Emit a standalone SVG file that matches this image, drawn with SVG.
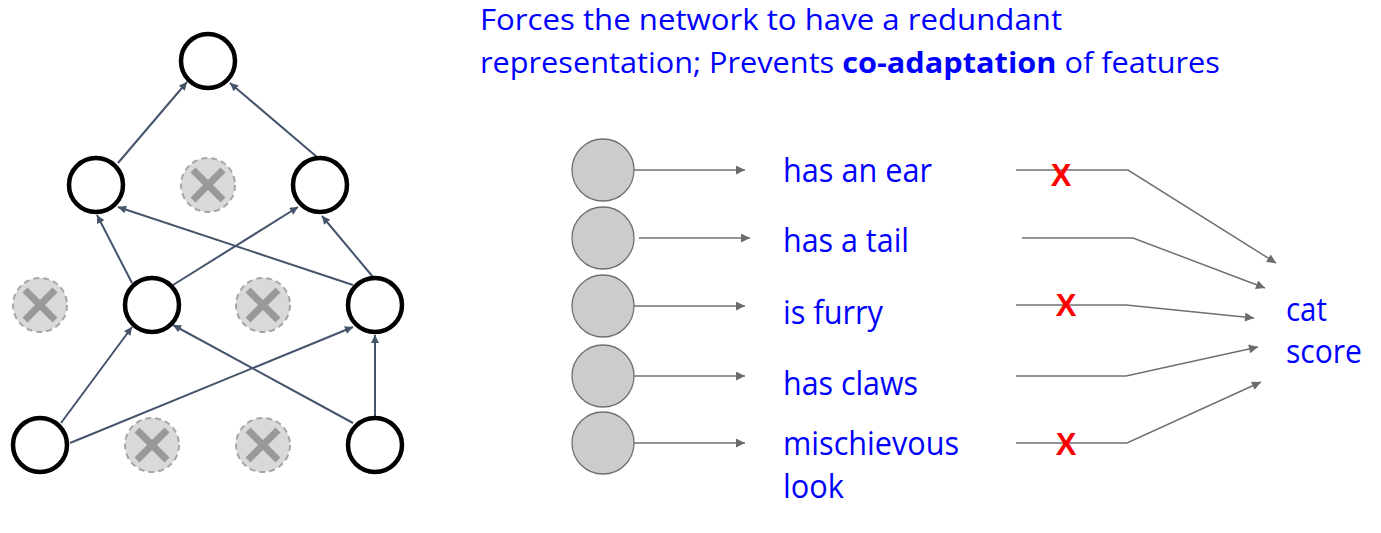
<svg xmlns="http://www.w3.org/2000/svg" width="1381" height="533" viewBox="0 0 1381 533">
<defs>
<style>
.node{fill:#fff;stroke:#000;stroke-width:4.5}
.drop{fill:#d9d9d9;stroke:#a6a6a6;stroke-width:2;stroke-dasharray:6 4}
.dx{stroke:#999;stroke-width:7}
.net{stroke:#44546a;stroke-width:2;fill:none;marker-end:url(#ah)}
.feat{fill:#cccccc;stroke:#707070;stroke-width:1.3}
.fl{stroke:#707070;stroke-width:1.5;fill:none}
.fa{marker-end:url(#ag)}
.lbl{font-family:"Open Sans","Noto Sans",sans-serif;font-size:32px;fill:#0000ff}
.top{font-family:"Open Sans","Noto Sans",sans-serif;font-size:29px;fill:#0000ff}
.x{font-family:"Liberation Sans",Arial,sans-serif;font-weight:bold;font-size:31px;fill:#ff0000;text-anchor:middle}
</style>
<marker id="ah" viewBox="0 0 10 10" refX="10" refY="5" markerWidth="9" markerHeight="8" markerUnits="userSpaceOnUse" orient="auto">
<path d="M0,0 L10,5 L0,10 z" fill="#44546a"/>
</marker>
<marker id="ag" viewBox="0 0 10 10" refX="10" refY="5" markerWidth="12" markerHeight="9" markerUnits="userSpaceOnUse" orient="auto">
<path d="M0,0 L10,5 L0,10 z" fill="#6b6b6b"/>
</marker>
</defs>
<rect width="1381" height="533" fill="#fff"/>

<g id="connectors">
<line class="net" x1="118" y1="163" x2="187" y2="82"/>
<line class="net" x1="317" y1="157" x2="230" y2="83"/>
<line class="net" x1="132" y1="283" x2="97" y2="215"/>
<line class="net" x1="353" y1="285" x2="118" y2="207"/>
<line class="net" x1="173" y1="285" x2="298" y2="207"/>
<line class="net" x1="373" y1="277" x2="322" y2="216"/>
<line class="net" x1="61" y1="423" x2="132" y2="327"/>
<line class="net" x1="70" y1="443" x2="353" y2="327"/>
<line class="net" x1="353" y1="423" x2="173" y2="325"/>
<line class="net" x1="375" y1="417" x2="375" y2="335"/>

<line class="fl fa" x1="634" y1="170" x2="745" y2="170"/>
<line class="fl fa" x1="639" y1="238" x2="750" y2="238"/>
<line class="fl fa" x1="634" y1="306" x2="745" y2="306"/>
<line class="fl fa" x1="634" y1="376" x2="745" y2="376"/>
<line class="fl fa" x1="634" y1="443" x2="745" y2="443"/>

<polyline class="fl fa" points="1016,170 1128,170 1276,263"/>
<polyline class="fl fa" points="1022,238 1133,238 1265,288"/>
<polyline class="fl fa" points="1016,305 1126,305 1254,318"/>
<polyline class="fl fa" points="1016,376 1126,376 1258,347"/>
<polyline class="fl fa" points="1016,443 1127,443 1261,382"/>
</g>

<g id="n-top"><circle class="node" cx="208" cy="61" r="27"/></g>
<g id="n-h1a"><circle class="node" cx="96" cy="185" r="27"/></g>
<g id="n-h1b"><circle class="drop" cx="208" cy="185" r="27"/><path class="dx" d="M193,170 L223,200 M223,170 L193,200"/></g>
<g id="n-h1c"><circle class="node" cx="320" cy="185" r="27"/></g>
<g id="n-h2a"><circle class="drop" cx="40" cy="305" r="27"/><path class="dx" d="M25,290 L55,320 M55,290 L25,320"/></g>
<g id="n-h2b"><circle class="node" cx="152" cy="305" r="27"/></g>
<g id="n-h2c"><circle class="drop" cx="263" cy="305" r="27"/><path class="dx" d="M248,290 L278,320 M278,290 L248,320"/></g>
<g id="n-h2d"><circle class="node" cx="375" cy="305" r="27"/></g>
<g id="n-in1"><circle class="node" cx="40" cy="445" r="27"/></g>
<g id="n-in2"><circle class="drop" cx="152" cy="445" r="27"/><path class="dx" d="M137,430 L167,460 M167,430 L137,460"/></g>
<g id="n-in3"><circle class="drop" cx="263" cy="445" r="27"/><path class="dx" d="M248,430 L278,460 M278,430 L248,460"/></g>
<g id="n-in4"><circle class="node" cx="375" cy="445" r="27"/></g>

<g id="title">
<text class="top" x="480" y="30" textLength="582" lengthAdjust="spacingAndGlyphs">Forces the network to have a redundant</text>
<text class="top" x="480" y="73" textLength="740" lengthAdjust="spacingAndGlyphs">representation; Prevents <tspan font-weight="bold">co-adaptation</tspan> of features</text>
</g>

<g id="f1"><circle class="feat" cx="603" cy="170" r="31"/><text class="lbl" x="783" y="182" textLength="149" lengthAdjust="spacingAndGlyphs">has an ear</text></g>
<g id="f2"><circle class="feat" cx="603" cy="238" r="31"/><text class="lbl" x="783" y="252" textLength="126" lengthAdjust="spacingAndGlyphs">has a tail</text></g>
<g id="f3"><circle class="feat" cx="603" cy="306" r="31"/><text class="lbl" x="783" y="324" textLength="100" lengthAdjust="spacingAndGlyphs">is furry</text></g>
<g id="f4"><circle class="feat" cx="603" cy="376" r="31"/><text class="lbl" x="783" y="395" textLength="135" lengthAdjust="spacingAndGlyphs">has claws</text></g>
<g id="f5"><circle class="feat" cx="603" cy="443" r="31"/><text class="lbl" x="783" y="455" textLength="176" lengthAdjust="spacingAndGlyphs">mischievous</text><text class="lbl" x="783" y="498" textLength="61" lengthAdjust="spacingAndGlyphs">look</text></g>

<g id="drops">
<text class="x" x="1061" y="186">X</text>
<text class="x" x="1066" y="316">X</text>
<text class="x" x="1066" y="455">X</text>
</g>

<g id="cat-score">
<text class="lbl" x="1286" y="321" textLength="41" lengthAdjust="spacingAndGlyphs">cat</text>
<text class="lbl" x="1286" y="363" textLength="76" lengthAdjust="spacingAndGlyphs">score</text>
</g>
</svg>
